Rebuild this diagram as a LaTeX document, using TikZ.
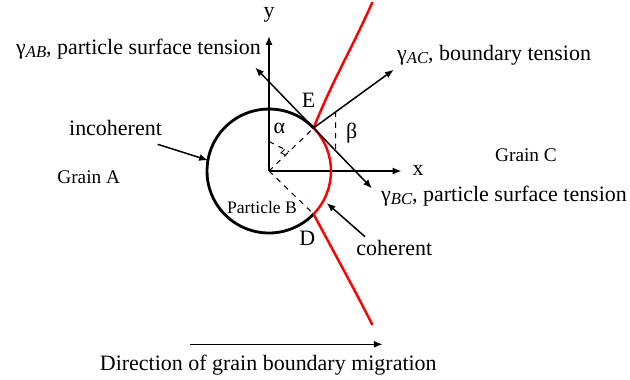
\documentclass[tikz,border=0pt]{standalone}
\usepackage{fontspec}
\setmainfont{Liberation Serif}
\usepackage{xcolor}
\definecolor{bndRed}{HTML}{FF0000}
\usetikzlibrary{calc,arrows.meta}

\newcommand{\gsub}[1]{\raisebox{-0.3ex}{\fontsize{9.5}{10}\selectfont\itshape #1}}

\begin{document}
\begin{tikzpicture}[
  lbl/.style={inner sep=1pt, font=\fontsize{12.5}{15}\selectfont},
  grain/.style={inner sep=1pt, font=\fontsize{11}{13}\selectfont},
  vec/.style={-{Latex[length=5pt,width=4pt]}, line width=0.85pt},
  aux/.style={dashed, line width=0.6pt},
  bnd/.style={bndRed, line width=1.4pt}
]
  \useasboundingbox (-5.38,-4.16) rectangle (7.22,3.42);
  \coordinate (O) at (0,0);
  \coordinate (E) at (44:1.24);
  \coordinate (D) at (-44:1.24);

  % axes
  \coordinate (xend) at (2.65,0);
  \coordinate (yend) at (0,2.7);
  \draw[vec] (O) -- (xend);
  \draw[vec] (O) -- (yend);
  \node[lbl] (xl) at (2.98,0.02) {x};
  \node[lbl] (yl) at (0,3.12) {y};

  % particle and boundary
  \draw[line width=1.6pt] (E) arc[start angle=44, end angle=316, radius=1.24];
  \draw[bnd] (D) arc[start angle=-44, end angle=44, radius=1.24];
  \coordinate (Rtop) at (2.07,3.38);
  \coordinate (Rbot) at (2.07,-3.08);
  \draw[bnd] (E) to[out=68, in=246] (Rtop);
  \draw[bnd] (D) to[out=-62, in=117] (Rbot);

  % dashed construction
  \draw[aux] (O) -- (E);
  \draw[aux] (O) -- (D);
  \coordinate (ya) at (0,0.59);
  \coordinate (fa) at ($(O)!0.45!(E)$);
  \draw[aux] (ya) -- (fa);
  \coordinate (m1) at ($(fa)!0.1cm!(O)$);
  \coordinate (m3) at ($(fa)!0.1cm!(ya)$);
  \coordinate (m2) at ($(m1)+(m3)-(fa)$);
  \draw[line width=0.5pt] (m1) -- (m2) -- (m3);

  % tensions
  \coordinate (tAB) at ($(E)+(134:1.68)$);
  \coordinate (tBC) at ($(E)+(-46:1.68)$);
  \coordinate (tAC) at ($(E)+(36:1.98)$);
  \draw[vec] (E) -- (tAB);
  \draw[vec] (E) -- (tBC);
  \draw[vec] (E) -- (tAC);
  \coordinate (b1) at ($(E)+(0.44,0)$);
  \coordinate (b1top) at (intersection of E--tAC and b1--{$(b1)+(0,1)$});
  \coordinate (b1bot) at (intersection of E--tBC and b1--{$(b1)+(0,-1)$});
  \draw[aux] (b1top) -- (b1bot);

  \node[lbl] (El) at (0.794,1.42) {E};
  \node[lbl] (Dl) at (0.766,-1.346) {D};
  \node[lbl] (al) at (0.206,0.854) {α};
  \node[lbl] (bl) at (1.654,0.754) {β};

  \node[lbl, anchor=east] (lAB) at (-0.12,2.44) {γ\gsub{AB}, particle surface tension};
  \node[lbl, anchor=west] (lAC) at (2.52,2.32) {γ\gsub{AC}, boundary tension};
  \node[lbl, anchor=west] (lBC) at (2.2,-0.5) {γ\gsub{BC}, particle surface tension};

  % regions
  \node[grain] (gA) at (-3.606,-0.114) {Grain A};
  \node[grain] (gC) at (5.14,0.32) {Grain C};
  \node[inner sep=1pt, font=\fontsize{10}{12}\selectfont] (pB) at (-0.14,-0.72) {Particle B};

  % interface labels
  \node[lbl] (inc) at (-3.07,0.86) {incoherent};
  \coordinate (inc1) at (-2.226,0.534);
  \coordinate (inc2) at (170:1.24);
  \draw[vec] (inc1) -- (inc2);
  \node[lbl] (coh) at (2.506,-1.54) {coherent};
  \coordinate (coh1) at (1.92,-1.314);
  \coordinate (coh2) at (-29:1.32);
  \draw[vec] (coh1) -- (coh2);

  % migration
  \coordinate (dirS) at (-1.58,-3.466);
  \coordinate (dirE) at (2.274,-3.466);
  \draw[vec] (dirS) -- (dirE);
  \node[lbl] (dir) at (-0.014,-3.88) {Direction of grain boundary migration};
\end{tikzpicture}
\end{document}
